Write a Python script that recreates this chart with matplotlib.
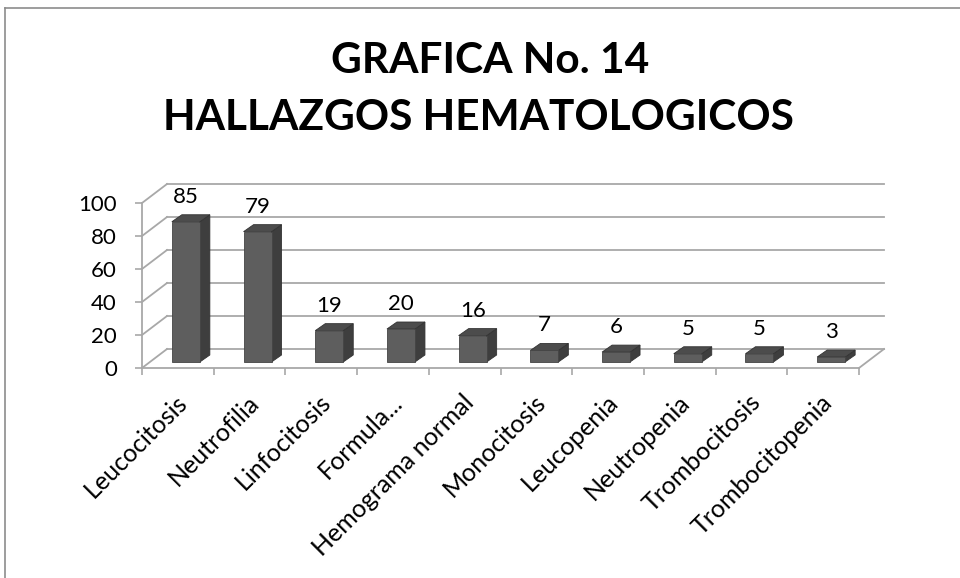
import matplotlib
matplotlib.use("Agg")
import matplotlib.pyplot as plt
from matplotlib.patches import Polygon
from matplotlib.lines import Line2D

categories = ["Leucocitosis", "Neutrofilia", "Linfocitosis", "Formula...",
              "Hemograma normal", "Monocitosis", "Leucopenia", "Neutropenia",
              "Trombocitosis", "Trombocitopenia"]
values = [85, 79, 19, 20, 16, 7, 6, 5, 5, 3]
y_ticks = [0, 20, 40, 60, 80, 100]
title_lines = ["GRAFICA No. 14", "HALLAZGOS HEMATOLOGICOS"]

W, H = 960, 578
plt.rcParams['font.family'] = ['Lato', 'DejaVu Sans']

fig = plt.figure(figsize=(W / 100, H / 100), dpi=100)
fig.patch.set_facecolor("white")

# plot area (front plane) in pixels
left, right, y0, y100 = 142, 859, 368, 203
ax = fig.add_axes([left / W, (H - y0) / H, (right - left) / W, (y0 - y100) / H])
ax.set_xlim(-0.5, len(categories) - 0.5)
ax.set_ylim(0, 100)
ax.patch.set_alpha(0)

px_cat = (right - left) / len(categories)
px_val = (y0 - y100) / 100.0

# depth offsets (pixels -> data units)
depth_x, depth_y = 25 / px_cat, 19 / px_val
bar_fx, bar_fy = 8 / px_cat, 6 / px_val
bar_dx, bar_dy = 10 / px_cat, 7 / px_val
bar_w = 28 / px_cat

grid_c = "#a8a8a8"
x_lo, x_hi = -0.5, len(categories) - 0.5
for v in y_ticks:
    ax.plot([x_lo + depth_x, x_hi + depth_x], [v + depth_y, v + depth_y],
            color=grid_c, lw=1.3, clip_on=False, zorder=1)
    ax.plot([x_lo, x_lo + depth_x], [v, v + depth_y],
            color=grid_c, lw=1.3, clip_on=False, zorder=1)
ax.plot([x_hi, x_hi + depth_x], [0, depth_y], color=grid_c, lw=1.3,
        clip_on=False, zorder=1)

for i, v in enumerate(values):
    xl = i - bar_w / 2 + bar_fx
    xr = i + bar_w / 2 + bar_fx
    yb, yt = bar_fy, bar_fy + v
    side = Polygon([(xr, yb), (xr + bar_dx, yb + bar_dy),
                    (xr + bar_dx, yt + bar_dy), (xr, yt)],
                   closed=True, facecolor="#3e3e3e", edgecolor="#333333",
                   lw=0.6, clip_on=False, zorder=3)
    top = Polygon([(xl, yt), (xr, yt), (xr + bar_dx, yt + bar_dy),
                   (xl + bar_dx, yt + bar_dy)],
                  closed=True, facecolor="#4c4c4c", edgecolor="#333333",
                  lw=0.6, clip_on=False, zorder=3)
    ax.add_patch(side)
    ax.add_patch(top)
    ax.bar(i + bar_fx, v, bottom=yb, width=bar_w, color="#5e5e5e",
           edgecolor="#444444", lw=0.6, clip_on=False, zorder=4)
    ax.annotate(str(v), (i + bar_fx, yt), xytext=(0, 19),
                textcoords="offset pixels", ha="center", va="baseline",
                fontsize=16, color="black", annotation_clip=False)

for s in ["top", "right"]:
    ax.spines[s].set_visible(False)
for s in ["left", "bottom"]:
    ax.spines[s].set_color(grid_c)
    ax.spines[s].set_linewidth(1.3)

ax.set_yticks(y_ticks)
ax.set_yticklabels([str(t) for t in y_ticks], fontsize=16)
ax.tick_params(axis="y", length=5, width=1.2, color=grid_c, pad=13)

ax.set_xticks([i + 0.08 for i in range(len(categories))])
ax.set_xticklabels(categories, rotation=45, ha="right", va="center",
                   rotation_mode="anchor", fontsize=18)
ax.set_xticks([i - 0.5 for i in range(len(categories) + 1)], minor=True)
ax.tick_params(axis="x", which="major", length=0, pad=22)
ax.tick_params(axis="x", which="minor", length=5, width=1.2, color=grid_c)

fig.text(490 / W, 1 - 73 / H, title_lines[0], ha="center", va="baseline",
         fontsize=30.5, fontweight="bold")
fig.text(478 / W, 1 - 130 / H, title_lines[1], ha="center", va="baseline",
         fontsize=30.5, fontweight="bold")

# chart frame
fig.add_artist(Line2D([5 / W, 5 / W], [0, 1 - 8 / H], color="#8c8c8c", lw=1.2))
fig.add_artist(Line2D([5 / W, 1], [1 - 8 / H, 1 - 8 / H], color="#8c8c8c", lw=1.2))

fig.savefig("out.png", dpi=100)
